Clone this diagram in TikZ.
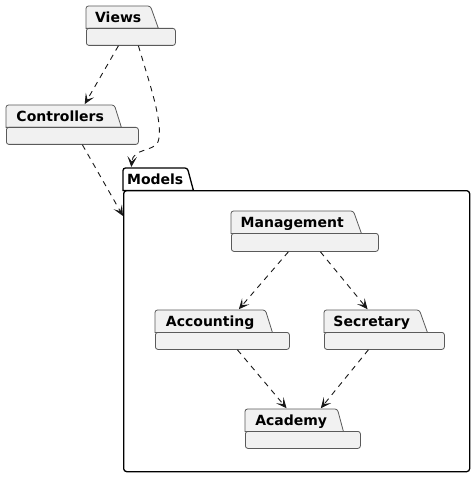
\documentclass[tikz,border=0pt]{standalone}
\usepackage{fontspec}
\setmainfont{DejaVu Sans}
\usetikzlibrary{arrows.meta,backgrounds}
\pgfdeclarelayer{bottom}
\pgfsetlayers{bottom,background,main}
\definecolor{pkgfill}{HTML}{F1F1F1}
\definecolor{pkgline}{HTML}{5A5A5A}
\definecolor{arr}{HTML}{181818}
\tikzset{
 tabnode/.style={inner sep=0pt, minimum height=22pt, text height=10.2pt, text depth=0pt, font=\fontsize{14}{16}\selectfont\bfseries, anchor=north west},
 pkgshape/.style={draw=pkgline, fill=pkgfill, line width=0.8pt},
 bodynode/.style={pkgshape, rounded corners=2.5pt, inner sep=0pt, anchor=north west},
 dep/.style={draw=arr, line width=0.9pt, dash pattern=on 5.5pt off 5pt, -{Stealth[length=10.5pt,width=9.5pt,inset=5pt]}},
}
% name, x, y, tab width, slant, body width, body height, text
\newcommand\pkgbox[8]{%
 \node[tabnode, minimum width=#4pt] (#1) at (#2,#3) {#8};
 \node[bodynode, minimum width=#6pt, minimum height=#7pt] (#1b) at (#2,#3+22) {};
 \begin{scope}[on background layer]
 \path[pkgshape] (#1.south west) [rounded corners=2.5pt] -- (#1.north west) -- (#1.north east) [sharp corners] -- ([xshift=#5pt]#1.south east) -- cycle;
 \end{scope}}
\begin{document}
\begin{tikzpicture}[x=1pt,y=-1pt]
\useasboundingbox (0,0) rectangle (474,478);
% Models container
\begin{pgfonlayer}{bottom}
\node[tabnode, minimum width=64pt] (models) at (123,168) {};
\path[draw=black, fill=white, line width=1.3pt] (models.south west) [rounded corners=2.5pt] -- (models.north west) -- (models.north east) [sharp corners] -- ([xshift=6pt]models.south east) -- cycle;
\node[draw=black, fill=white, line width=1.3pt, rounded corners=3pt, inner sep=0pt, anchor=north west, minimum width=346pt, minimum height=281pt] (modelsb) at (123,190) {};
\node[tabnode, minimum width=64pt] (modelslbl) at (123,168) {Models};
\end{pgfonlayer}
% packages
\pkgbox{views}{86}{6}{64}{8}{89}{17}{Views}
\pkgbox{ctrl}{6}{105}{108}{7}{132}{17}{Controllers}
\pkgbox{mgmt}{231}{211}{122}{8}{147}{18}{Management}
\pkgbox{acc}{155}{310}{110}{7}{134}{17}{Accounting}
\pkgbox{sec}{324}{310}{95}{8}{120}{17}{Secretary}
\pkgbox{acad}{245}{409}{92}{6}{115}{17}{Academy}
% connectors
\coordinate (bend) at (158,142);
\draw[dep, shorten >=1pt] ([xshift=-12.5pt]viewsb.south) -- ([xshift=24pt]ctrl.north);
\draw[dep, shorten >=1pt] ([xshift=7.5pt]viewsb.south) .. controls (150,85) and (164,125) .. (bend) .. controls (153,152) and (133,148) .. ([xshift=-24pt]models.north);
\draw[dep] ([xshift=10pt]ctrlb.south) -- ([yshift=-26pt]modelsb.north west);
\draw[dep, shorten >=1pt] ([xshift=-16.5pt]mgmtb.south) -- ([xshift=28pt]acc.north);
\draw[dep, shorten >=1pt] ([xshift=15.5pt]mgmtb.south) -- ([xshift=-3.5pt]sec.north);
\draw[dep, shorten >=1pt] ([xshift=15pt]accb.south) -- ([xshift=-4pt]acad.north);
\draw[dep, shorten >=1pt] ([xshift=-16pt]secb.south) -- ([xshift=29pt]acad.north);
\end{tikzpicture}
\end{document}
